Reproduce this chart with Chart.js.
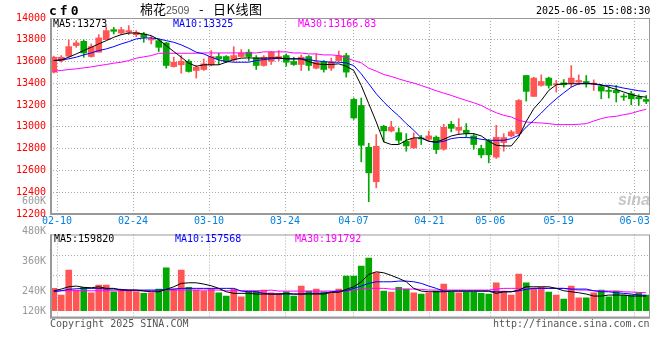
<!DOCTYPE html>
<html>
<head>
<meta charset="utf-8">
<script src="https://cdn.jsdelivr.net/npm/chart.js@4.4.1/dist/chart.umd.min.js"></script>
<style>
  body { margin: 0; background: #fff; }
  #wrap { position: relative; width: 660px; height: 360px; overflow: hidden; background: #fff; }
  canvas { position: absolute; left: 0; }
  .t { position: absolute; font: 10px/10px "DejaVu Sans Mono", monospace; white-space: pre; }
  .vl { position: absolute; right: 614px; font: 10px/10px "DejaVu Sans Mono", monospace; color: #999; text-align: right; }
  .cjk { position: absolute; font: 13px/14px "Noto Sans CJK SC"; color: #000; white-space: pre; }
</style>
</head>
<body>
<div id="wrap">
  <canvas id="kChart" width="660" height="230" style="top:0"></canvas>
  <canvas id="volChart" width="660" height="100" style="top:230px"></canvas>

  <div class="t" style="left:49px;top:4px;font:bold 13px/13px 'DejaVu Sans Mono';letter-spacing:3px">cf0</div>
  <div class="cjk" style="left:140px;top:2px">棉花</div>
  <div class="t" style="left:166px;top:5px;font:10.5px/10px 'Liberation Sans';color:#555">2509</div>
  <div class="cjk" style="left:199px;top:2px">-</div>
  <div class="cjk" style="left:213px;top:2px;letter-spacing:0.5px">日K线图</div>
  <div class="t" style="left:536px;top:6px;color:#000">2025-06-05 15:08:30</div>

  <div class="t" style="left:53px;top:19px;color:#000">MA5:13273</div>
  <div class="t" style="left:173px;top:19px;color:#0000ff">MA10:13325</div>
  <div class="t" style="left:298px;top:19px;color:#ff00ff">MA30:13166.83</div>

  <div class="t" style="left:54px;top:234px;color:#000">MA5:159820</div>
  <div class="t" style="left:175px;top:234px;color:#0000ff">MA10:157568</div>
  <div class="t" style="left:295px;top:234px;color:#ff00ff">MA30:191792</div>

  <div class="vl" style="top:196px">600K</div>
  <div class="vl" style="top:226px">480K</div>
  <div class="vl" style="top:256px">360K</div>
  <div class="vl" style="top:286px">240K</div>
  <div class="vl" style="top:306px">120K</div>

  <div class="t" style="left:50px;top:319px;color:#555">Copyright 2025 SINA.COM</div>
  <div class="t" style="left:493px;top:319px;color:#555">http://finance.sina.com.cn</div>
  <div class="t" style="left:618px;top:192px;font:italic bold 16px/16px 'Liberation Sans';color:rgba(160,160,160,0.6)">sina</div>
</div>
<script>
(function () {
  // trading days shown, 02-07 .. 06-05
  var dates = ['02-07','02-10','02-11','02-12','02-13','02-14','02-17','02-18','02-19','02-20',
    '02-21','02-24','02-25','02-26','02-27','02-28','03-03','03-04','03-05','03-06',
    '03-07','03-10','03-11','03-12','03-13','03-14','03-17','03-18','03-19','03-20',
    '03-21','03-24','03-25','03-26','03-27','03-28','03-31','04-01','04-02','04-03',
    '04-07','04-08','04-09','04-10','04-11','04-14','04-15','04-16','04-17','04-18',
    '04-21','04-22','04-23','04-24','04-25','04-28','04-29','04-30','05-06','05-07',
    '05-08','05-09','05-12','05-13','05-14','05-15','05-16','05-19','05-20','05-21',
    '05-22','05-23','05-26','05-27','05-28','05-29','05-30','06-03','06-04','06-05'];
  var tickDates = ['02-10','02-24','03-10','03-24','04-07','04-21','05-06','05-19','06-03'];

  var opens = [13502,13609,13649,13747,13786,13646,13686,13801,13893,13862,
    13869,13847,13853,13798,13792,13771,13554,13570,13603,13518,
    13527,13570,13646,13646,13615,13646,13686,13634,13564,13603,
    13625,13655,13600,13573,13646,13539,13594,13539,13609,13655,
    13252,13197,12813,12496,13005,12963,12947,12868,12807,12899,
    12886,12905,12795,13024,12969,12969,12917,12801,12871,12722,
    12856,12917,12938,13472,13280,13381,13448,13387,13405,13402,
    13411,13417,13393,13371,13335,13335,13283,13304,13274,13252];
  var highs = [13650,13655,13798,13792,13798,13762,13847,13920,13914,13914,
    13930,13884,13869,13832,13808,13777,13640,13655,13618,13563,
    13625,13701,13676,13655,13737,13710,13710,13655,13655,13692,
    13701,13670,13640,13661,13655,13670,13609,13631,13695,13676,
    13265,13265,12850,12930,13015,13051,12990,12938,12944,12923,
    12960,12917,13024,13051,13076,13030,12938,12832,12886,13015,
    12938,12969,13252,13472,13457,13478,13457,13426,13435,13563,
    13478,13472,13432,13387,13371,13381,13304,13326,13295,13289];
  var lows = [13495,13595,13640,13731,13640,13640,13686,13801,13853,13847,
    13847,13829,13777,13762,13692,13539,13548,13493,13503,13448,
    13518,13560,13573,13594,13603,13640,13609,13527,13557,13573,
    13609,13557,13564,13518,13518,13533,13503,13518,13603,13457,
    13069,12679,12313,12441,12862,12954,12847,12777,12801,12838,
    12877,12755,12786,12954,12929,12908,12795,12716,12670,12710,
    12777,12908,12923,13237,13280,13374,13356,13320,13365,13365,
    13387,13365,13335,13258,13265,13228,13243,13203,13197,13213];
  var closes = [13640,13640,13737,13771,13679,13737,13817,13884,13878,13893,
    13884,13869,13823,13808,13731,13564,13594,13603,13509,13548,
    13579,13646,13625,13600,13655,13679,13646,13564,13640,13686,
    13646,13594,13573,13640,13564,13594,13527,13594,13655,13503,
    13082,12831,12578,12822,12963,12996,12877,12825,12892,12889,
    12917,12792,12996,12987,12996,12944,12838,12743,12743,12905,
    12902,12954,13243,13326,13448,13417,13381,13396,13387,13448,
    13426,13396,13402,13329,13326,13313,13274,13258,13258,13234];

  var ma5 = [13609,13615,13640,13670,13701,13731,13762,13792,13823,13847,
    13862,13862,13853,13838,13801,13746,13692,13640,13585,13557,
    13570,13570,13570,13594,13618,13631,13634,13631,13631,13634,
    13634,13625,13625,13625,13600,13579,13573,13573,13579,13557,
    13518,13380,13213,13045,12862,12838,12838,12877,12899,12899,
    12868,12862,12886,12917,12932,12938,12938,12917,12868,12831,
    12825,12825,12908,13051,13167,13243,13335,13387,13396,13396,
    13396,13396,13396,13387,13365,13344,13320,13298,13280,13273];
  var ma10 = [13609,13615,13625,13640,13661,13679,13701,13716,13737,13762,
    13783,13808,13817,13817,13808,13792,13777,13753,13722,13686,
    13670,13640,13615,13600,13594,13594,13594,13609,13618,13625,
    13631,13625,13625,13625,13618,13606,13600,13594,13594,13588,
    13563,13487,13396,13304,13228,13161,13100,13030,12969,12899,
    12868,12856,12868,12892,12902,12902,12899,12886,12877,12877,
    12877,12892,12923,12999,13060,13127,13197,13258,13313,13365,
    13396,13402,13393,13381,13381,13371,13356,13344,13332,13325];
  var ma30 = [13512,13518,13527,13533,13542,13551,13563,13573,13585,13594,
    13609,13631,13643,13655,13676,13676,13676,13676,13676,13676,
    13679,13679,13679,13679,13679,13679,13679,13679,13689,13689,
    13689,13689,13679,13679,13670,13670,13661,13661,13655,13634,
    13609,13588,13539,13512,13481,13463,13441,13420,13402,13380,
    13356,13332,13310,13289,13265,13243,13222,13197,13161,13130,
    13106,13091,13060,13045,13039,13036,13030,13021,13021,13021,
    13024,13030,13054,13076,13091,13097,13112,13124,13145,13162];

  var volumes = [224000,157000,407000,207000,234000,180000,257000,257000,190000,214000,
    207000,190000,174000,180000,217000,430000,217000,407000,234000,207000,
    197000,217000,180000,147000,217000,140000,197000,197000,207000,180000,
    174000,190000,147000,247000,197000,217000,190000,180000,217000,347000,
    347000,447000,527000,380000,197000,187000,234000,217000,180000,167000,
    180000,197000,267000,187000,180000,187000,187000,174000,167000,280000,
    197000,157000,367000,280000,217000,234000,187000,157000,117000,247000,
    130000,130000,180000,207000,140000,197000,157000,157000,180000,157000];
  var volMa5 = [200000,217000,240000,247000,234000,230000,240000,224000,224000,207000,
    207000,207000,197000,190000,190000,214000,240000,274000,280000,280000,
    267000,250000,224000,190000,174000,174000,174000,167000,167000,167000,
    167000,174000,167000,167000,167000,167000,167000,184000,184000,214000,
    240000,290000,364000,390000,380000,354000,324000,290000,224000,197000,
    190000,190000,190000,197000,197000,197000,197000,197000,197000,174000,
    190000,190000,207000,240000,240000,240000,240000,224000,200000,190000,
    180000,167000,147000,147000,157000,157000,157000,147000,147000,147000];
  var volMa10 = [190000,200000,214000,220000,224000,224000,224000,217000,217000,214000,
    207000,207000,207000,207000,207000,214000,217000,224000,224000,224000,
    224000,224000,224000,224000,224000,197000,190000,190000,174000,167000,
    167000,167000,167000,167000,174000,174000,174000,190000,197000,200000,
    224000,247000,274000,290000,290000,290000,297000,297000,290000,274000,
    247000,224000,197000,197000,197000,197000,197000,197000,197000,190000,
    190000,190000,200000,214000,224000,224000,224000,224000,224000,217000,
    217000,217000,200000,190000,190000,180000,174000,167000,157000,154000];
  var volMa30 = [200000,200000,200000,200000,200000,200000,200000,200000,200000,200000,
    200000,200000,200000,200000,200000,207000,207000,207000,207000,207000,
    207000,207000,207000,200000,200000,200000,200000,200000,200000,207000,
    197000,197000,197000,197000,197000,197000,197000,197000,197000,197000,
    207000,217000,224000,224000,224000,217000,217000,217000,217000,214000,
    207000,207000,207000,207000,207000,207000,207000,207000,207000,217000,
    224000,224000,224000,224000,224000,224000,224000,224000,224000,214000,
    207000,207000,200000,200000,197000,197000,190000,187000,184000,180000];
  var volGrid = [357000, 557000];

  var UP = '#ff5555', DOWN = '#00a800', GRID = '#aaaaaa';
  var colors = closes.map(function (c, i) { return c >= opens[i] ? UP : DOWN; });
  var tickIdx = tickDates.map(function (d) { return dates.indexOf(d); });
  var monoFont = { family: 'DejaVu Sans Mono', size: 10 };

  var framePlugin = {
    id: 'frame',
    afterDraw: function (chart) {
      var a = chart.chartArea, c = chart.ctx;
      c.save();
      c.strokeStyle = '#999';
      c.lineWidth = 1;
      c.strokeRect(a.left + 0.5, a.top + 0.5, a.right - a.left - 1, a.bottom - a.top - 1);
      c.lineWidth = 2;
      c.beginPath();
      c.moveTo(a.left + 1, a.top);
      c.lineTo(a.left + 1, a.bottom);
      c.lineTo(a.right, a.bottom);
      c.stroke();
      c.restore();
    }
  };

  // date gridlines/labels sit on their own axis (sina spaces them slightly wider than bars)
  function dateAxis(showLabels) {
    return {
      type: 'linear', position: 'bottom', offset: false,
      min: 1 - 7 / 7.6, max: 1 + 593 / 7.6,
      afterBuildTicks: function (s) { s.ticks = tickIdx.map(function (v) { return { value: v }; }); },
      afterFit: function (s) { s.height = showLabels ? 16 : 0; },
      grid: { color: GRID, drawTicks: false, offset: false },
      border: { display: false, dash: [1, 2] },
      ticks: {
        display: showLabels, autoSkip: false, maxRotation: 0, padding: 1,
        color: '#0080e0', font: monoFont,
        callback: function (v) { return dates[v]; }
      }
    };
  }

  function maLine(data, color) {
    return { type: 'line', data: data, borderColor: color, borderWidth: 1, pointRadius: 0,
      tension: 0, xAxisID: 'x', yAxisID: 'y', order: 0 };
  }

  var baseOpts = {
    responsive: false, animation: false, events: [],
    plugins: { legend: { display: false }, tooltip: { enabled: false } }
  };

  new Chart(document.getElementById('kChart'), {
    type: 'bar',
    data: {
      labels: dates,
      datasets: [
        maLine(ma5, '#000000'),
        maLine(ma10, '#0000ff'),
        maLine(ma30, '#ff00ff'),
        { type: 'bar', data: opens.map(function (o, i) { return [o, closes[i]]; }),
          backgroundColor: colors, barThickness: 6, minBarLength: 1, grouped: false,
          xAxisID: 'x', yAxisID: 'y', order: 1 },
        { type: 'bar', data: lows.map(function (l, i) { return [l, highs[i]]; }),
          backgroundColor: colors, barThickness: 1, grouped: false,
          xAxisID: 'x', yAxisID: 'y', order: 2 }
      ]
    },
    options: Object.assign({}, baseOpts, {
      layout: { padding: { top: 18, right: 10, bottom: 0, left: 0 } },
      scales: {
        x: { type: 'category', display: false, offset: true },
        xd: dateAxis(true),
        y: {
          min: 12200, max: 14000,
          afterFit: function (s) { s.width = 50; },
          grid: { color: GRID, drawTicks: false },
          border: { display: false, dash: [1, 2] },
          ticks: { stepSize: 200, color: '#ff0000', padding: 4, font: monoFont,
            callback: function (v) { return String(v); } }
        }
      }
    }),
    plugins: [framePlugin]
  });

  new Chart(document.getElementById('volChart'), {
    type: 'bar',
    data: {
      labels: dates,
      datasets: [
        maLine(volMa5, '#000000'),
        maLine(volMa10, '#0000ff'),
        maLine(volMa30, '#ff00ff'),
        { type: 'bar', data: volumes, backgroundColor: colors, barThickness: 6,
          xAxisID: 'x', yAxisID: 'y', order: 1 }
      ]
    },
    options: Object.assign({}, baseOpts, {
      layout: { padding: { top: 4.5, right: 10, bottom: 12.3, left: 0 } },
      scales: {
        x: { type: 'category', display: false, offset: true },
        xd: dateAxis(false),
        y: {
          min: -70000, max: 764000,
          afterFit: function (s) { s.width = 50; },
          afterBuildTicks: function (s) { s.ticks = volGrid.map(function (v) { return { value: v }; }); },
          grid: { color: GRID, drawTicks: false },
          border: { display: false, dash: [1, 2] },
          ticks: { display: false }
        }
      }
    }),
    plugins: [framePlugin]
  });
})();
</script>
</body>
</html>
